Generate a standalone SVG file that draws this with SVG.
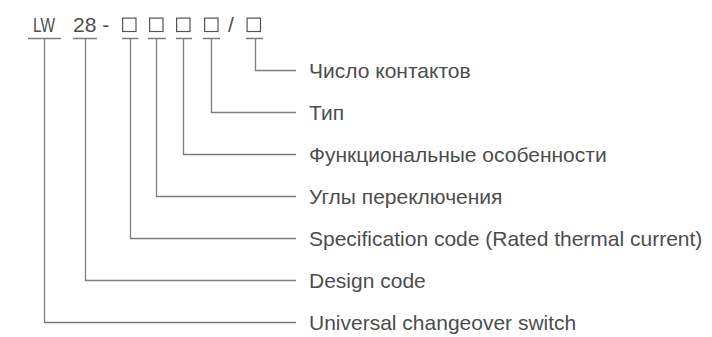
<svg xmlns="http://www.w3.org/2000/svg" width="712" height="337" viewBox="0 0 712 337">
<style>
text{font-family:"Liberation Sans",Arial,sans-serif;font-size:21px;fill:#4d4d4d}
.lbl{font-size:21px}
.ln{fill:none;stroke:#7d7d7d;stroke-width:1.3}
.box{fill:none;stroke:#555;stroke-width:1.2}
</style>
<rect width="712" height="337" fill="#fff"/>
<g id="code">
<text x="33" y="32" textLength="22" lengthAdjust="spacingAndGlyphs">LW</text>
<text x="73" y="32">28 -</text>
<rect class="box" x="122.6" y="18.1" width="13.4" height="13.4"/>
<rect class="box" x="149.6" y="18.1" width="13.4" height="13.4"/>
<rect class="box" x="176.6" y="18.1" width="13.4" height="13.4"/>
<rect class="box" x="204.6" y="18.1" width="13.4" height="13.4"/>
<text x="228" y="32">/</text>
<rect class="box" x="247.1" y="18.1" width="13.4" height="13.4"/>
</g>
<g id="connectors" class="ln">
<path d="M28 38.5H61M44.5 38.5V322.5H296"/>
<path d="M73 38.5H97M85.5 38.5V280.5H296"/>
<path d="M122 38.5H138.5M130.5 38.5V238.5H296"/>
<path d="M148 38.5H166M156.5 38.5V196.5H296"/>
<path d="M176 38.5H192M183.5 38.5V154.5H296"/>
<path d="M203 38.5H220M211.5 38.5V112.5H296"/>
<path d="M246 38.5H263M255.5 38.5V70.5H296"/>
</g>
<g id="n1"><text class="lbl" x="309" y="78">Число контактов</text></g>
<g id="n2"><text class="lbl" x="309" y="120">Тип</text></g>
<g id="n3"><text class="lbl" x="309" y="162">Функциональные особенности</text></g>
<g id="n4"><text class="lbl" x="309" y="204">Углы переключения</text></g>
<g id="n5"><text class="lbl" x="309" y="246">Specification code (Rated thermal current)</text></g>
<g id="n6"><text class="lbl" x="309" y="288">Design code</text></g>
<g id="n7"><text class="lbl" x="309" y="330">Universal changeover switch</text></g>
</svg>
